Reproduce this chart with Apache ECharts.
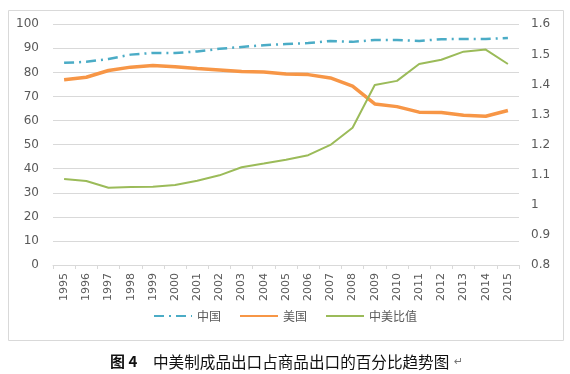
<!DOCTYPE html>
<html><head><meta charset="utf-8">
<script src="https://cdn.jsdelivr.net/npm/echarts@6/dist/echarts.min.js"></script>
<style>html,body{margin:0;padding:0;background:#fff}#c{width:570px;height:374px}</style>
</head><body><div id="c"></div>
<script>
const years = ['1995','1996','1997','1998','1999','2000','2001','2002','2003','2004','2005','2006','2007','2008','2009','2010','2011','2012','2013','2014','2015'];
const china = [84.0,84.4,85.6,87.4,88.1,88.1,88.7,89.8,90.6,91.3,91.8,92.2,93.1,92.7,93.5,93.5,93.1,93.8,93.9,93.9,94.3];
const usa = [77.0,78.0,80.8,82.2,82.9,82.4,81.6,81.0,80.4,80.2,79.4,79.1,77.7,74.3,66.9,65.8,63.5,63.4,62.2,61.8,64.2];
const ratio = [1.086,1.079,1.057,1.059,1.060,1.066,1.080,1.098,1.125,1.137,1.150,1.165,1.199,1.256,1.398,1.412,1.468,1.482,1.509,1.516,1.468];
const seriesNames = ['中国','美国','中美比值'];
const captionLabel = '图 4';
const caption = '中美制成品出口占商品出口的百分比趋势图';

const chart = echarts.init(document.getElementById('c'));
const axisText = {color:'#595959', fontSize:11, fontFamily:'"DejaVu Sans", sans-serif'};
chart.setOption({
  animation:false,
  graphic:[
    {type:'rect', shape:{x:8.5,y:10.5,width:555,height:330}, style:{fill:'none', stroke:'#d9d9d9', lineWidth:1}, silent:true, z:-1},
    {type:'text', left:110, top:354, style:{text:captionLabel, fill:'#111', font:'bold 15px "Noto Sans CJK SC"'}},
    {type:'text', left:153, top:354, style:{text:caption, fill:'#111', font:'15.6px "Noto Sans CJK SC"'}},
    {type:'text', left:454, top:357, style:{text:'↵', fill:'#777', font:'11px "DejaVu Sans"'}}
  ],
  grid:{left:53, right:51, top:24.3, bottom:109},
  legend:{
    bottom:47, left:'center', itemWidth:38, itemHeight:10, itemGap:18,
    itemStyle:{opacity:0},
    textStyle:{color:'#595959', fontSize:12, fontFamily:'"Noto Sans CJK SC"'},
    data:seriesNames
  },
  xAxis:{
    type:'category', data:years, boundaryGap:true,
    axisLine:{lineStyle:{color:'#d9d9d9'}},
    axisTick:{show:true, length:4, lineStyle:{color:'#d9d9d9'}},
    axisLabel:Object.assign({rotate:90, interval:0, margin:8}, axisText)
  },
  yAxis:[
    {type:'value', min:0, max:100, interval:10,
     axisLine:{show:false}, axisTick:{show:false},
     splitLine:{lineStyle:{color:'#d9d9d9'}},
     axisLabel:Object.assign({margin:14}, axisText, {fontSize:12})},
    {type:'value', min:0.8, max:1.6, interval:0.1,
     axisLine:{show:false}, axisTick:{show:false}, splitLine:{show:false},
     axisLabel:Object.assign({margin:12, formatter:v=>String(+v.toFixed(1))}, axisText, {fontSize:12})}
  ],
  series:[
    {name:seriesNames[0], type:'line', data:china, symbol:'none', yAxisIndex:0,
     itemStyle:{color:'#4BACC6'}, lineStyle:{color:'#4BACC6', width:2.5, type:[10,5,2,5]}},
    {name:seriesNames[1], type:'line', data:usa, symbol:'none', yAxisIndex:0,
     itemStyle:{color:'#F79646'}, lineStyle:{color:'#F79646', width:3.5}},
    {name:seriesNames[2], type:'line', data:ratio, symbol:'none', yAxisIndex:1,
     itemStyle:{color:'#9BBB59'}, lineStyle:{color:'#9BBB59', width:2}}
  ]
});
</script></body></html>
